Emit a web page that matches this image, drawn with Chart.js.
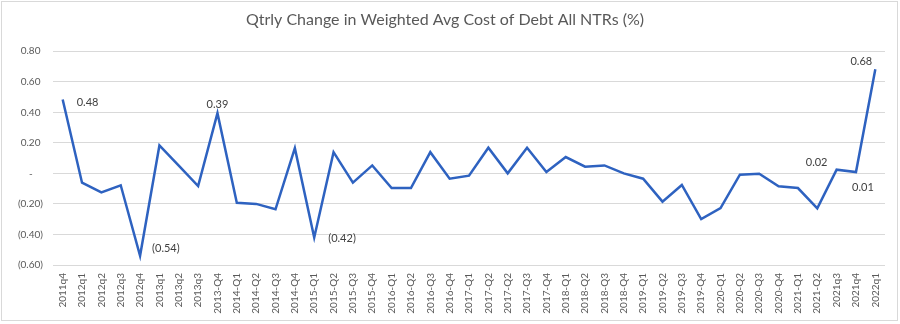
<!DOCTYPE html>
<html lang="en">
<head>
    <meta charset="UTF-8">
    <title>Qtrly Change in Weighted Avg Cost of Debt</title>
    <script src="https://cdn.jsdelivr.net/npm/chart.js"></script>
    <style>
        body { margin: 0; background: #fff; }
        .wrap { width: 900px; height: 324px; position: relative; }
    </style>
</head>
<body>
    <div class="wrap"><canvas id="chart"></canvas></div>

    <script>
        const quarters = [
            '2011q4', '2012q1', '2012q2', '2012q3', '2012q4', '2013q1', '2013q2', '2013q3', '2013-Q4',
            '2014-Q1', '2014-Q2', '2014-Q3', '2014-Q4', '2015-Q1', '2015-Q2', '2015-Q3', '2015-Q4',
            '2016-Q1', '2016-Q2', '2016-Q3', '2016-Q4', '2017-Q1', '2017-Q2', '2017-Q2', '2017-Q3', '2017-Q4',
            '2018-Q1', '2018-Q2', '2018-Q3', '2018-Q4', '2019-Q1', '2019-Q2', '2019-Q3', '2019-Q4',
            '2020-Q1', '2020-Q2', '2020-Q3', '2020-Q4', '2021-Q1', '2021-Q2', '2021q3', '2021q4', '2022q1'
        ];
        const changePct = [
            0.484, -0.061, -0.124, -0.078, -0.54, 0.183, 0.05, -0.083, 0.394,
            -0.192, -0.2, -0.235, 0.165, -0.42, 0.139, -0.061, 0.052,
            -0.096, -0.096, 0.139, -0.035, -0.015, 0.168, 0.0, 0.168, 0.009,
            0.107, 0.044, 0.052, 0.0, -0.035, -0.185, -0.076, -0.299,
            -0.227, -0.009, -0.002, -0.085, -0.096, -0.229, 0.024, 0.009, 0.682
        ];
        const yTicks = [-0.6, -0.4, -0.2, 0, 0.2, 0.4, 0.6, 0.8];
        const labelledPoints = [0, 4, 8, 13, 40, 41, 42];

        // where each data label sits relative to its point (dx, dy, align)
        const labelOffsets = {
            0: [14, 3, 'left'],
            4: [12, -7, 'left'],
            8: [0, -9, 'center'],
            13: [14, 1, 'left'],
            40: [-20, -7, 'center'],
            41: [7, 15, 'center'],
            42: [-14, -8, 'center']
        };

        function acct(v) {
            if (Math.abs(v) < 1e-9) return '-    ';
            if (v < 0) return '(' + Math.abs(v).toFixed(2) + ')';
            return v.toFixed(2) + ' ';
        }

        const frame = {
            id: 'frame',
            beforeDraw(chart) {
                const ctx = chart.ctx;
                ctx.save();
                ctx.fillStyle = '#fff';
                ctx.fillRect(0, 0, chart.width, chart.height);
                ctx.strokeStyle = '#d9d9d9';
                ctx.lineWidth = 1;
                ctx.strokeRect(1.5, 1.5, chart.width - 4, chart.height - 5);
                ctx.restore();
            }
        };

        const pointLabels = {
            id: 'pointLabels',
            afterDatasetsDraw(chart) {
                const ctx = chart.ctx;
                const meta = chart.getDatasetMeta(0);
                ctx.save();
                ctx.font = '11px Lato';
                ctx.fillStyle = '#404040';
                ctx.textBaseline = 'middle';
                labelledPoints.forEach(i => {
                    const pt = meta.data[i];
                    const off = labelOffsets[i];
                    ctx.textAlign = off[2];
                    ctx.fillText(acct(changePct[i]).trim(), pt.x + off[0], pt.y + off[1]);
                });
                ctx.restore();
            }
        };

        new Chart(document.getElementById('chart'), {
            type: 'line',
            data: {
                labels: quarters,
                datasets: [{
                    data: changePct,
                    borderColor: '#2E62C0',
                    borderWidth: 2.5,
                    pointRadius: 0,
                    tension: 0,
                    fill: false
                }]
            },
            options: {
                responsive: true,
                maintainAspectRatio: false,
                animation: false,
                layout: { padding: { left: 5, right: 15, top: 0, bottom: 5 } },
                plugins: {
                    legend: { display: false },
                    tooltip: { enabled: false },
                    title: {
                        display: true,
                        text: 'Qtrly Change in Weighted Avg Cost of Debt All NTRs (%)',
                        color: '#595959',
                        font: { family: 'Lato', size: 16, weight: 'normal' },
                        padding: { top: 10, bottom: 22 }
                    }
                },
                scales: {
                    x: {
                        offset: true,
                        grid: { display: false, drawTicks: false },
                        border: { display: false },
                        ticks: {
                            autoSkip: false,
                            minRotation: 90,
                            maxRotation: 90,
                            padding: 8,
                            color: '#595959',
                            font: { family: 'Lato', size: 10 }
                        },
                        afterFit(scale) { scale.height = 54; }
                    },
                    y: {
                        min: -0.6,
                        max: 0.8,
                        afterBuildTicks(scale) { scale.ticks = yTicks.map(v => ({ value: v })); },
                        grid: { color: '#d9d9d9', lineWidth: 1, drawTicks: false },
                        border: { display: false },
                        ticks: {
                            padding: 10,
                            color: '#595959',
                            font: { family: 'Lato', size: 10 },
                            callback: v => acct(v)
                        },
                        afterFit(scale) { scale.width = 48; }
                    }
                }
            },
            plugins: [frame, pointLabels]
        });
    </script>
</body>
</html>
